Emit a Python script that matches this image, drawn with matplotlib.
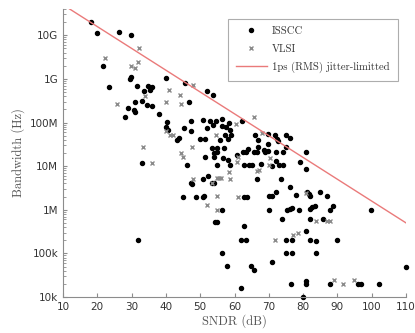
import matplotlib
matplotlib.use("Agg")
import matplotlib.pyplot as plt
from matplotlib.ticker import FixedLocator, FixedFormatter, LogLocator, NullFormatter

# ISSCC designs: SNDR (dB) and bandwidth (Hz)
isscc_sndr = [18.2, 19.8, 26.2, 29.9, 21.7, 23.5, 29.6, 29.7, 31.6, 33.6, 34.9, 35.9, 35.5,
              30.9, 29.0, 30.8, 30.9, 32.9, 34.6, 35.9, 28.2, 38.1, 39.9, 45.5, 46.8, 51.9,
              53.8, 40.2, 40.0, 40.6, 45.3, 47.3, 47.2, 50.9, 51.9, 52.8, 54.5, 56.3, 56.4,
              53.6, 57.5, 58.3, 58.6, 59.0, 62.1, 66.0, 69.8, 71.8, 72.5, 72.8, 75.1, 76.1,
              66.9, 69.9, 74.9, 80.9, 65.7, 66.7, 68.8, 69.9, 72.0, 74.0, 66.9, 68.6, 79.0,
              80.9, 72.0, 66.7, 73.5, 76.2,
              43.1, 43.8, 49.9, 51.4, 55.8, 58.0, 57.2, 53.3, 54.8, 57.0, 62.4, 63.4, 63.9,
              54.1, 55.0, 54.1, 56.7, 58.0, 51.4, 60.6,
              46.2, 55.0, 58.7, 62.9, 64.2, 65.2, 67.8, 71.0, 73.1, 74.0, 32.9,
              44.9, 48.7, 47.4, 47.7, 50.9, 52.3, 50.9, 51.2, 31.8, 53.5, 54.1,
              56.3, 62.9, 63.7, 70.0, 70.9, 72.0, 77.9, 81.1, 81.8, 81.9, 84.9, 86.9,
              70.0, 75.4, 76.2, 76.9, 78.8, 81.9, 82.6, 83.5, 87.8, 88.7, 85.8, 99.9,
              54.3, 54.8, 62.9, 73.9, 81.9, 80.8, 61.8, 63.4, 75.0, 76.7, 81.9, 83.9, 90.0,
              56.3, 57.9, 64.7, 65.8, 71.0, 75.0, 76.9, 83.8, 61.8, 76.4, 80.9, 80.9, 87.7,
              96.0, 97.0, 102.0, 110.0, 79.9]
isscc_bw = [2.0e10, 1.1e10, 1.2e10, 1.0e10, 2.0e9, 6.5e8, 1.0e9, 1.1e9, 6.8e8, 5.2e8, 6.8e8, 6.6e8, 5.7e8,
            3.0e8, 2.1e8, 1.9e8, 1.75e8, 3.1e8, 2.5e8, 2.4e8, 1.35e8, 1.6e8, 1.05e9, 8.0e8, 3.0e8, 5.3e8,
            4.3e8, 1.05e8, 8.0e7, 6.6e7, 7.6e7, 1.07e8, 6.5e7, 1.15e8, 7.6e7, 1.07e8, 1.07e8, 1.2e8, 8.2e7,
            8.7e7, 8.0e7, 1.0e8, 6.8e7, 5.2e7, 1.1e8, 5.3e7, 5.5e7, 5.2e7, 4.1e7, 3.7e7, 5.2e7, 4.4e7,
            3.9e7, 3.3e7, 2.7e7, 2.1e7, 2.1e7, 2.1e7, 2.1e7, 2.2e7, 2.1e7, 2.1e7, 2.75e7, 2.4e7, 1.25e7,
            8.5e6, 1.3e7, 5.1e6, 5.1e6, 3.3e6,
            3.9e7, 4.3e7, 4.1e7, 4.1e7, 3.9e7, 4.1e7, 5.1e7, 2.6e7, 2.6e7, 2.6e7, 2.1e7, 2.1e7, 2.45e7,
            2.0e7, 2.1e7, 1.6e7, 1.55e7, 1.35e7, 1.6e7, 1.8e7,
            1.05e7, 1.05e7, 1.05e7, 1.05e7, 1.05e7, 1.05e7, 1.1e7, 1.0e7, 1.05e7, 1.05e7, 1.15e7,
            2.0e6, 2.0e6, 4.1e6, 3.9e6, 5.0e6, 6.0e6, 2.0e6, 2.1e6, 2.0e5, 4.0e6, 4.0e6,
            1.0e6, 2.0e6, 2.0e6, 2.05e6, 2.05e6, 2.6e6, 2.2e6, 2.6e6, 2.3e6, 2.05e6, 2.6e6, 2.05e6,
            1.0e6, 1.0e6, 1.05e6, 1.1e6, 1.0e6, 1.05e6, 1.15e6, 1.2e6, 9.8e5, 1.25e6, 6.1e5, 1.0e6,
            5.2e5, 5.2e5, 4.3e5, 6.1e5, 6.1e5, 3.3e5, 2.0e5, 2.0e5, 2.05e5, 2.05e5, 2.05e5, 1.95e5, 2.05e5,
            1.0e5, 5.2e4, 5.2e4, 4.1e4, 6.5e4, 1.0e5, 1.0e5, 1.0e5, 1.6e4, 2.0e4, 2.35e4, 2.0e4, 2.0e4,
            2.0e4, 2.0e4, 2.0e4, 4.9e4, 1.0e4]

# VLSI designs
vlsi_sndr = [22.2, 32.1, 31.9, 29.8, 30.9, 25.6, 33.8, 40.9, 40.0, 44.1, 44.3, 48.0,
             40.0, 41.3, 42.1, 33.3, 44.4, 44.9, 47.5, 35.9, 48.0, 52.0, 54.6, 60.3,
             65.6, 68.0, 70.4, 66.7, 60.9, 58.4, 58.6, 54.8, 55.5, 56.1, 53.3, 55.0,
             60.9, 54.9, 60.8, 67.0, 70.0, 80.9, 83.8, 87.0, 87.8, 71.9, 77.2, 78.5,
             88.9, 91.5, 94.9]
vlsi_bw = [3.0e9, 5.0e9, 2.5e9, 2.0e9, 1.8e9, 2.6e8, 4.1e8, 5.6e8, 3.0e8, 4.2e8, 2.6e8, 7.2e8,
           6.3e7, 5.2e7, 5.2e7, 2.7e7, 2.0e7, 1.6e7, 2.7e7, 1.15e7, 5.1e6, 1.26e6, 5.1e7, 9.3e7,
           1.35e8, 5.6e7, 1.5e7, 7.8e6, 1.6e7, 7.4e6, 5.2e6, 5.4e6, 5.4e6, 5.4e6, 4.2e6, 2.05e6,
           2.0e6, 1.0e6, 1.26e7, 8.1e6, 1.05e7, 2.45e6, 5.4e5, 5.4e5, 5.4e5, 2.05e5, 2.7e5, 2.9e5,
           2.4e4, 2.0e4, 2.5e4]

# 1ps (RMS) jitter limit, end points
jitter_sndr = [10, 110]
jitter_bw = [5.0e10, 5.0e5]

x_ticks = [10, 20, 30, 40, 50, 60, 70, 80, 90, 100, 110]
y_ticks = [1e4, 1e5, 1e6, 1e7, 1e8, 1e9, 1e10]
y_tick_labels = ["10k", "100k", "1M", "10M", "100M", "1G", "10G"]

serif = "cmr10"
axis_grey = "#8c8c8c"

fig = plt.figure(figsize=(4.15, 3.33), dpi=100)
ax = fig.add_axes([63 / 415, 36 / 333, 343 / 415, 288 / 333])

ax.plot(isscc_sndr, isscc_bw, "o", color="black", markersize=2.9, clip_on=False,
        label="ISSCC")
ax.plot(vlsi_sndr, vlsi_bw, "x", color="#8a8a8a", markersize=2.8, mew=1.0, clip_on=False,
        label="VLSI")
ax.plot(jitter_sndr, jitter_bw, "-", color="#ea7a7a", lw=1.0,
        label="1ps (RMS) jitter-limitted")

ax.set_yscale("log")
ax.set_xlim(10, 110)
ax.set_ylim(1e4, 4e10)
ax.xaxis.set_major_locator(FixedLocator(x_ticks))
ax.yaxis.set_major_locator(FixedLocator(y_ticks))
ax.yaxis.set_major_formatter(FixedFormatter(y_tick_labels))
ax.yaxis.set_minor_locator(LogLocator(base=10, subs=range(2, 10), numticks=20))
ax.yaxis.set_minor_formatter(NullFormatter())

for side in ["top", "right"]:
    ax.spines[side].set_visible(False)
for side in ["left", "bottom"]:
    ax.spines[side].set_color(axis_grey)
ax.tick_params(which="both", direction="in", colors=axis_grey, labelcolor="#333333",
               labelsize=7.5)
ax.tick_params(which="major", length=3)
ax.tick_params(which="minor", length=1.8)

ax.set_xlabel("SNDR (dB)", fontfamily=serif, fontsize=9, color="#555555", labelpad=2)
ax.set_ylabel("Bandwidth (Hz)", fontfamily=serif, fontsize=9, color="#555555", labelpad=3)

leg = ax.legend(loc="upper right", bbox_to_anchor=(0.992, 0.985),
                prop={"family": serif, "size": 7.7}, frameon=True, fancybox=False,
                edgecolor="#999999", handlelength=2.9, handletextpad=0.5,
                borderpad=0.75, labelspacing=0.75)
leg.get_frame().set_linewidth(0.8)
for t in leg.get_texts():
    t.set_color("#333333")

fig.savefig("out.png", dpi=100)
